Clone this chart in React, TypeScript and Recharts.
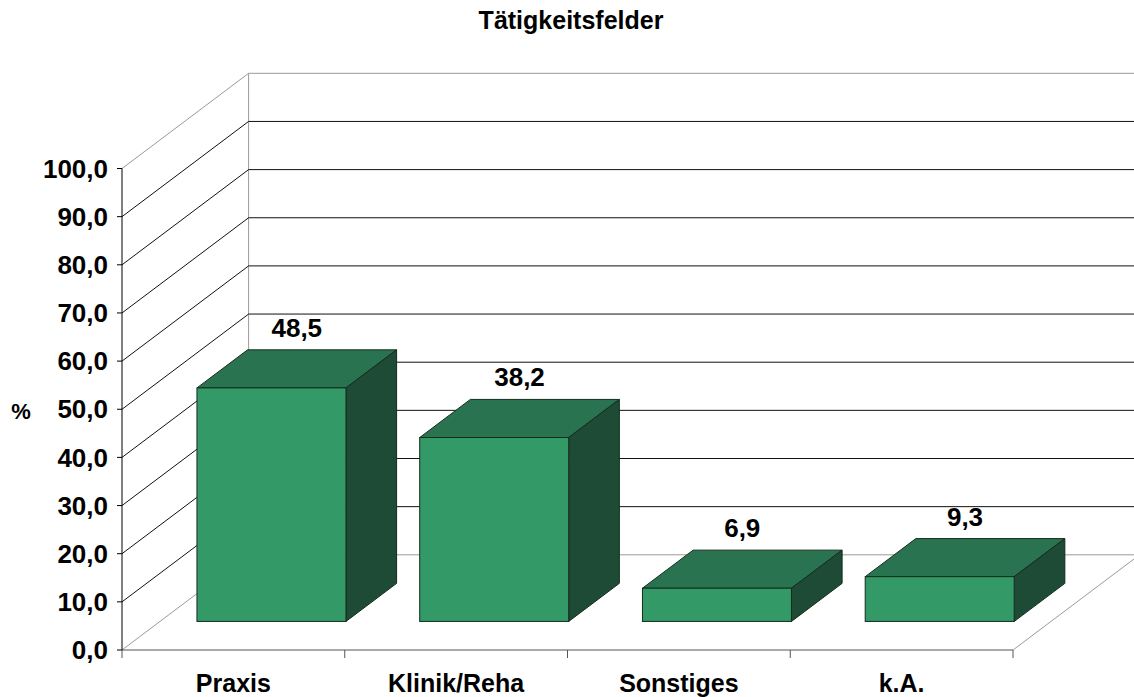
import { Bar, BarChart, CartesianGrid, LabelList, XAxis, YAxis } from "recharts";

const categories = ["Praxis", "Klinik/Reha", "Sonstiges", "k.A."];
const shares = [48.5, 38.2, 6.9, 9.3];
const yTicks = [0, 10, 20, 30, 40, 50, 60, 70, 80, 90, 100];

const data = categories.map((name, i) => ({ name, value: shares[i] }));

const W = 1134;
const H = 697;
const PLOT_LEFT = 122;
const PLOT_RIGHT = 1013;
const PLOT_TOP = 168.5;
const PLOT_BOTTOM = 650;
const BAND = (PLOT_RIGHT - PLOT_LEFT) / categories.length;

// depth of the 3d box (front plane -> back wall)
const DX = 126.6;
const DY = -95.2;
const BAR_FRONT = 0.3;
const BAR_DEPTH = 0.4;

const FONT = '"Liberation Sans", Arial, sans-serif';
const GRAY = "#9a9a9a";
const DARK = "#111";

const fmt = (v: number) => v.toFixed(1).replace(".", ",");

const gridLine = (props: any) => {
    const { x1, x2, y1, index } = props;
    const y = y1;
    const isFloor = Math.abs(y - PLOT_BOTTOM) < 1;
    const isTop = Math.abs(y - PLOT_TOP) < 1;
    const col = isFloor || isTop ? GRAY : DARK;
    return (
        <g key={`grid-${index}-${y}`}>
            <line x1={x1} y1={y} x2={x1 + DX} y2={y + DY} stroke={col} strokeWidth={1} />
            <line x1={x1 + DX} y1={y + DY} x2={x2 + DX} y2={y + DY} stroke={col} strokeWidth={1} />
            {isFloor && (
                <>
                    <line x1={x1 + DX} y1={y + DY} x2={x1 + DX} y2={PLOT_TOP + DY} stroke={GRAY} strokeWidth={1} />
                    <line x1={x2} y1={y} x2={x2 + DX} y2={y + DY} stroke={GRAY} strokeWidth={1} />
                </>
            )}
        </g>
    );
};

const Box3D = (props: any) => {
    const { x, y, width, height } = props;
    if (width == null || height == null) return null;
    const fx = x + BAR_FRONT * DX;
    const fy = y + BAR_FRONT * DY;
    const bx = BAR_DEPTH * DX;
    const by = BAR_DEPTH * DY;
    const stroke = "#142c1d";
    return (
        <g>
            <polygon
                points={`${fx},${fy} ${fx + width},${fy} ${fx + width + bx},${fy + by} ${fx + bx},${fy + by}`}
                fill="#2a7350"
                stroke={stroke}
                strokeWidth={1}
            />
            <polygon
                points={`${fx + width},${fy} ${fx + width + bx},${fy + by} ${fx + width + bx},${fy + height + by} ${fx + width},${fy + height}`}
                fill="#1e4b35"
                stroke={stroke}
                strokeWidth={1}
            />
            <rect x={fx} y={fy} width={width} height={height} fill="#339966" stroke={stroke} strokeWidth={1} />
        </g>
    );
};

const ValueLabel = (props: any) => {
    const { x, y, width, value } = props;
    const cx = x + BAR_FRONT * DX + width / 2 + (BAR_DEPTH * DX) / 2;
    const top = y + BAR_FRONT * DY + BAR_DEPTH * DY;
    return (
        <text x={cx} y={top - 13} textAnchor="middle" fontFamily={FONT} fontWeight="bold" fontSize={26} fill="#000">
            {fmt(Number(value))}
        </text>
    );
};

const CategoryTick = (props: any) => {
    const { x, payload, index } = props;
    return (
        <g>
            <line x1={x + BAND / 2} y1={PLOT_BOTTOM} x2={x + BAND / 2} y2={PLOT_BOTTOM + 8} stroke="#555" />
            {index === 0 && <line x1={x - BAND / 2} y1={PLOT_BOTTOM} x2={x - BAND / 2} y2={PLOT_BOTTOM + 8} stroke="#555" />}
            <text x={x} y={692} textAnchor="middle" fontFamily={FONT} fontWeight="bold" fontSize={25} fill="#000">
                {payload.value}
            </text>
        </g>
    );
};

export default function App() {
    return (
        <div style={{ position: "absolute", left: 0, top: 0, width: W, height: H, background: "#fff" }}>
            <BarChart
                width={W}
                height={H}
                data={data}
                margin={{ top: PLOT_TOP, right: W - PLOT_RIGHT, bottom: 0, left: 0 }}
                barCategoryGap="16.6%"
            >
                <CartesianGrid horizontal={gridLine} vertical={false} />
                <XAxis
                    dataKey="name"
                    height={H - PLOT_BOTTOM}
                    axisLine={{ stroke: "#555" }}
                    tickLine={false}
                    tick={<CategoryTick />}
                    interval={0}
                />
                <YAxis
                    width={PLOT_LEFT}
                    domain={[0, 100]}
                    ticks={yTicks}
                    interval={0}
                    tickFormatter={fmt}
                    axisLine={{ stroke: "#000" }}
                    tickLine={{ stroke: "#000" }}
                    tickSize={5}
                    tickMargin={9}
                    tick={{ fontFamily: FONT, fontWeight: "bold", fontSize: 26, fill: "#000" }}
                />
                <Bar dataKey="value" shape={<Box3D />} isAnimationActive={false}>
                    <LabelList dataKey="value" content={<ValueLabel />} />
                </Bar>
            </BarChart>
            <svg width={W} height={H} style={{ position: "absolute", left: 0, top: 0, pointerEvents: "none" }}>
                <text x={571} y={29} textAnchor="middle" fontFamily={FONT} fontWeight="bold" fontSize={25} fill="#000">
                    Tätigkeitsfelder
                </text>
                <text x={21} y={419} textAnchor="middle" fontFamily={FONT} fontWeight="bold" fontSize={22} fill="#000">
                    %
                </text>
            </svg>
        </div>
    );
}
